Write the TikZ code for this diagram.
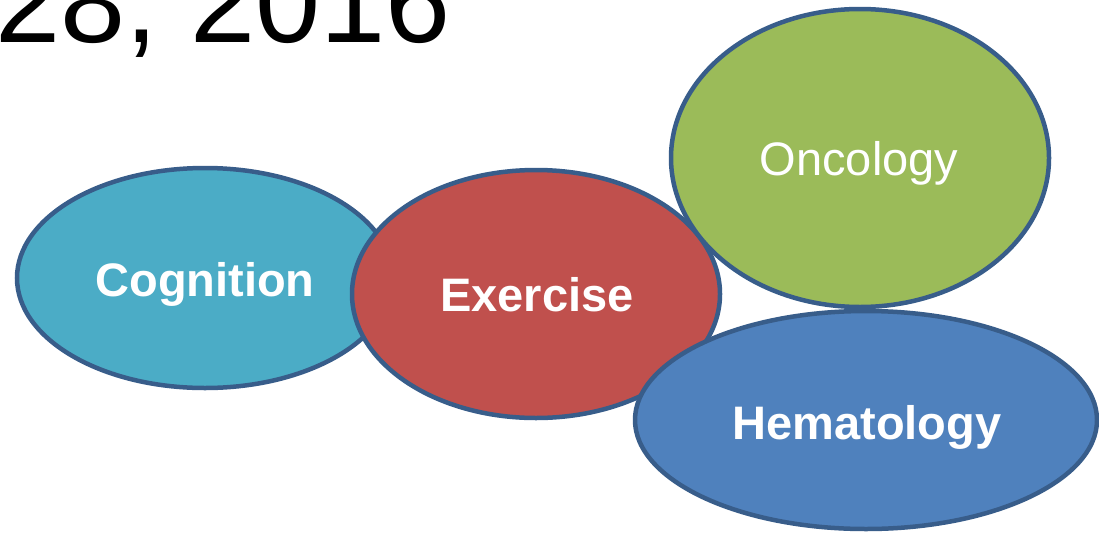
\documentclass[tikz,border=0pt]{standalone}
\usepackage{fontspec}
\setmainfont{Liberation Sans}
\definecolor{edgeblue}{HTML}{385D8A}
\definecolor{cogc}{HTML}{4BACC6}
\definecolor{exc}{HTML}{C0504D}
\definecolor{oncc}{HTML}{9BBB59}
\definecolor{hemc}{HTML}{4F81BD}
\tikzset{
  blob/.style={draw=edgeblue, line width=4.5pt},
  lbl/.style={text=white, font=\fontsize{47}{50}\selectfont\bfseries, inner sep=0pt},
}
\begin{document}
\begin{tikzpicture}[x=1pt,y=-1pt]
\useasboundingbox (0,0) rectangle (1099,533);
\clip (0,0) rectangle (1099,533);
\fill[white] (0,0) rectangle (1099,533);
\node[anchor=base east, inner sep=0pt, font=\fontsize{117}{120}\selectfont] (date) at (451,42) {28, 2016};
\fill[cogc, blob] (205,278) ellipse [x radius=188, y radius=110];
\node[lbl] (cog) at (205,284) {Cognition};
\fill[exc, blob] (536,294) ellipse [x radius=184, y radius=124];
\node[lbl] (ex) at (537,295) {Exercise};
\fill[oncc, blob] (860,158) ellipse [x radius=189, y radius=149];
\node[lbl, font=\fontsize{47}{50}\selectfont] (onc) at (859,163) {Oncology};
\fill[hemc, blob] (866,420) ellipse [x radius=231, y radius=109];
\node[lbl] (hem) at (867,427) {Hematology};
\end{tikzpicture}
\end{document}
